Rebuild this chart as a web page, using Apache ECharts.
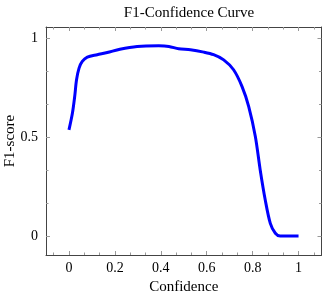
<!DOCTYPE html>
<html>
<head>
<meta charset="utf-8">
<script src="https://cdn.jsdelivr.net/npm/echarts@6/dist/echarts.min.js"></script>
<style>html,body{margin:0;padding:0;background:#fff}#c{width:323px;height:293px}</style>
</head>
<body>
<div id="c"></div>
<script>
const confidence = [0, 0.015, 0.025, 0.033, 0.044, 0.058, 0.08, 0.123, 0.167, 0.222, 0.297, 0.391, 0.435, 0.478, 0.529, 0.587, 0.63, 0.674, 0.717, 0.754, 0.783, 0.812, 0.833, 0.855, 0.877, 0.899, 0.92, 1.0];
const f1 = [0.536, 0.62, 0.705, 0.789, 0.848, 0.882, 0.904, 0.916, 0.927, 0.944, 0.958, 0.961, 0.958, 0.946, 0.941, 0.929, 0.916, 0.89, 0.84, 0.755, 0.654, 0.502, 0.334, 0.182, 0.064, 0.014, 0, 0];
const xTicks = [0, 0.2, 0.4, 0.6, 0.8, 1];
const xMinorTicks = [-1/15, 1/15, 2/15, 4/15, 5/15, 7/15, 8/15, 10/15, 11/15, 13/15, 14/15, 16/15];
const yTicks = [0, 0.5, 1];
const yMinorTicks = [1/6, 2/6, 4/6, 5/6];

const font = 'Liberation Serif';
const frameColor = '#444';
const tickColor = '#999';
const X = [-0.1, 1.1], Y = [-0.096, 1.056];

function xAx(pos, ticks, len, labels, line, extra) {
  return Object.assign({
    type: 'value', position: pos, min: X[0], max: X[1],
    splitLine: {show: false},
    axisLine: {show: line, onZero: false, lineStyle: {color: frameColor, width: 1}},
    axisTick: {show: true, inside: true, length: len, customValues: ticks, lineStyle: {color: tickColor, width: 1}},
    axisLabel: labels ? {show: true, customValues: ticks, color: '#000', fontFamily: font, fontSize: 14, margin: 6, formatter: v => String(v)} : {show: false}
  }, extra || {});
}
function yAx(pos, ticks, len, labels, line, extra) {
  return Object.assign({
    type: 'value', position: pos, min: Y[0], max: Y[1],
    splitLine: {show: false},
    axisLine: {show: line, onZero: false, lineStyle: {color: frameColor, width: 1}},
    axisTick: {show: true, inside: true, length: len, customValues: ticks, lineStyle: {color: tickColor, width: 1}},
    axisLabel: labels ? {show: true, customValues: ticks, color: '#000', fontFamily: font, fontSize: 14, margin: 8, formatter: v => String(v)} : {show: false}
  }, extra || {});
}

const chart = echarts.init(document.getElementById('c'), null, {renderer: 'canvas'});
chart.setOption({
  animation: false,
  title: {text: 'F1-Confidence Curve', left: 184, textAlign: 'center', top: 1,
    textStyle: {fontFamily: font, fontSize: 15, fontWeight: 'normal', color: '#000'}},
  grid: {left: 46, right: 1.5, top: 27, bottom: 38, containLabel: false, outerBoundsMode: 'none'},
  xAxis: [
    xAx('bottom', xTicks, 4, true, true, {name: 'Confidence', nameLocation: 'middle', nameGap: 25, nameMoveOverlap: false,
      nameTextStyle: {fontFamily: font, fontSize: 15, color: '#000'}}),
    xAx('bottom', xMinorTicks, 2.5, false, false),
    xAx('top', xTicks, 4, false, true),
    xAx('top', xMinorTicks, 2.5, false, false)
  ],
  yAxis: [
    yAx('left', yTicks, 4, true, true, {name: 'F1-score', nameLocation: 'middle', nameGap: 28, nameRotate: 90, nameMoveOverlap: false,
      nameTextStyle: {fontFamily: font, fontSize: 15, color: '#000'}}),
    yAx('left', yMinorTicks, 2.5, false, false),
    yAx('right', yTicks, 4, false, true),
    yAx('right', yMinorTicks, 2.5, false, false)
  ],
  series: [{
    type: 'line', xAxisIndex: 0, yAxisIndex: 0,
    data: confidence.map((c, i) => [c, f1[i]]),
    showSymbol: false, smooth: 0.3,
    lineStyle: {color: '#0000ff', width: 3}
  }]
});
</script>
</body>
</html>
